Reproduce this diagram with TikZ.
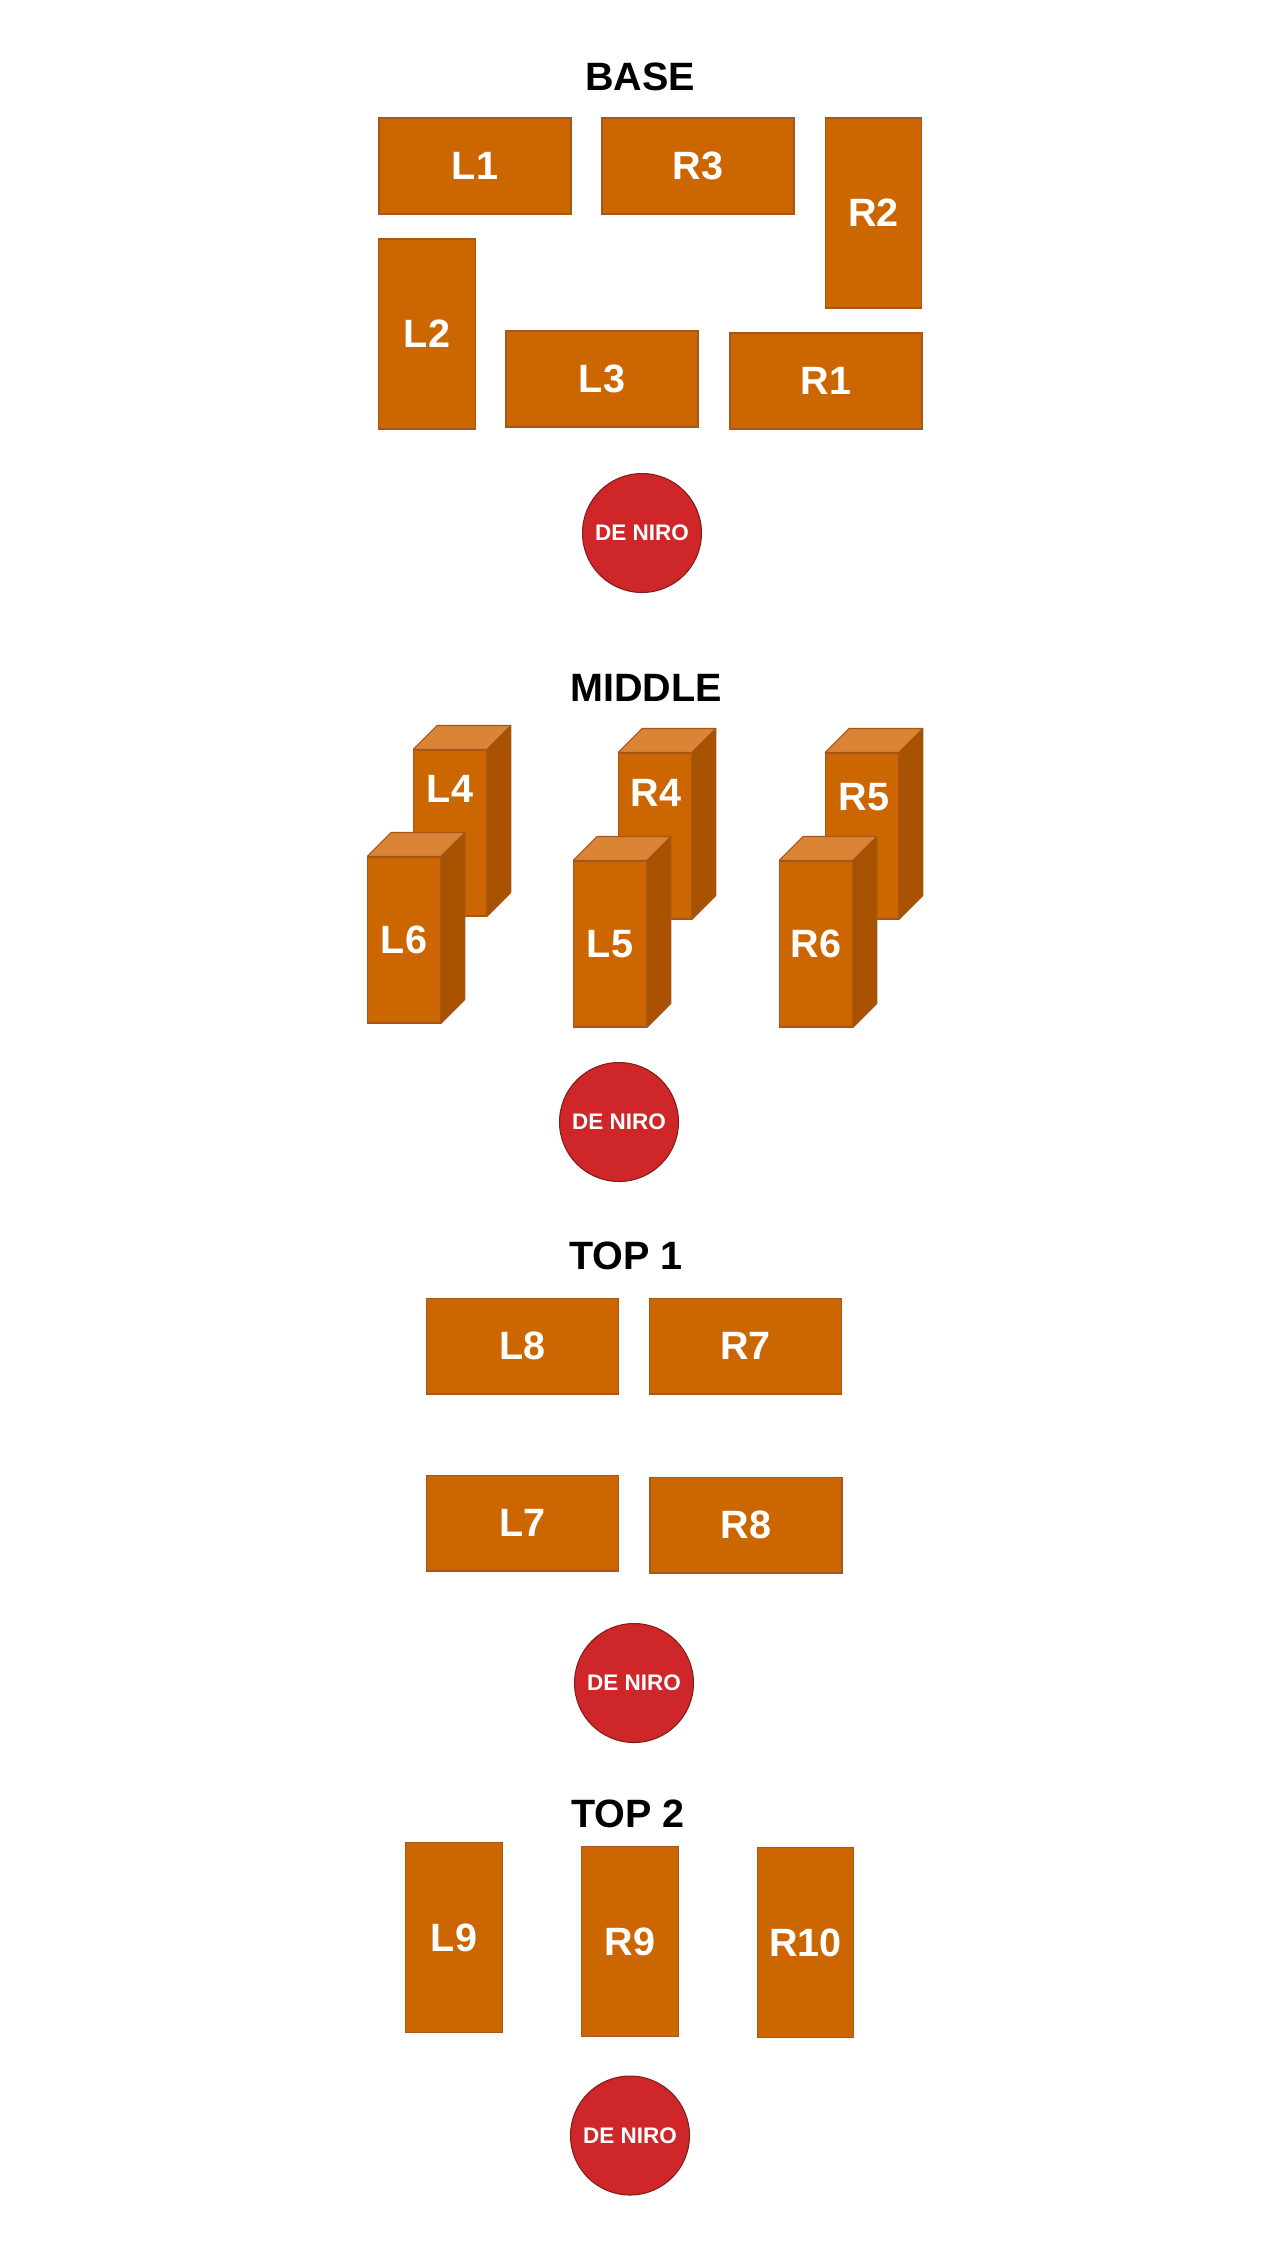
\documentclass[tikz,border=0pt]{standalone}
\usepackage{fontspec}
\setmainfont{Liberation Sans}
\definecolor{brick}{RGB}{204,102,0}
\definecolor{brickline}{RGB}{166,86,24}
\definecolor{bricktop}{RGB}{218,132,54}
\definecolor{brickside}{RGB}{168,82,0}
\definecolor{nirored}{RGB}{206,38,41}
\definecolor{niroline}{RGB}{128,30,24}

% top and right faces of a standing block
\newcommand{\prismfaces}[1]{%
  \filldraw[fill=bricktop, draw=brickline, line width=0.6pt, line join=round]
    (#1.north west) -- ++(24,-24) -- ([shift={(24,-24)}]#1.north east) -- (#1.north east) -- cycle;
  \filldraw[fill=brickside, draw=brickline, line width=0.6pt, line join=round]
    (#1.north east) -- ([shift={(24,-24)}]#1.north east) -- ([shift={(24,-24)}]#1.south east) -- (#1.south east) -- cycle;
}

\begin{document}
\begin{tikzpicture}[x=0.02cm, y=-0.02cm,
    flat/.style={draw=brickline, fill=brick, line width=0.6pt, inner sep=0pt,
      text=white, font=\fontsize{22.5pt}{24pt}\selectfont\bfseries,
      minimum width=3.84cm, minimum height=1.92cm},
    tall/.style={flat, minimum width=1.93cm, minimum height=3.8cm},
    front/.style={flat, minimum width=1.45cm, minimum height=3.32cm},
    tag/.style={text=white, font=\fontsize{22.5pt}{24pt}\selectfont\bfseries},
    deniro/.style={circle, draw=niroline, fill=nirored, line width=0.6pt, inner sep=0pt,
      minimum size=2.38cm, text=white, font=\fontsize{12.8pt}{14pt}\selectfont\bfseries},
    level/.style={font=\fontsize{22.5pt}{24pt}\selectfont\bfseries}]
  \fill[white] (0,0) rectangle (1265,2249);
  \useasboundingbox (0,0) rectangle (1265,2249);

  % base
  \node[level] (base) at (640,77) {BASE};
  \node[flat] (L1) at (475,166) {L1};
  \node[flat] (R3) at (698,166) {R3};
  \node[tall] (R2) at (873.5,213) {R2};
  \node[tall] (L2) at (427,334) {L2};
  \node[flat] (L3) at (602,379) {L3};
  \node[flat] (R1) at (826,381) {R1};
  \node[deniro] (niroA) at (642,533) {DE NIRO};

  % middle
  \node[level] (middle) at (646,688) {MIDDLE};
  \node[front] (L4) at (450,833) {};
  \prismfaces{L4}
  \node[tag] at (450,789) {L4};
  \node[front] (R4) at (655,836) {};
  \prismfaces{R4}
  \node[tag] at (656,793) {R4};
  \node[front] (R5) at (862,836) {};
  \prismfaces{R5}
  \node[tag] at (864,797) {R5};
  \node[front] (L6) at (404,940) {L6};
  \prismfaces{L6}
  \node[front] (L5) at (610,944) {L5};
  \prismfaces{L5}
  \node[front] (R6) at (816,944) {R6};
  \prismfaces{R6}
  \node[deniro] (niroB) at (619,1122) {DE NIRO};

  % top 1
  \node[level] (topone) at (626,1256) {TOP 1};
  \node[flat] (L8) at (522.5,1346) {L8};
  \node[flat] (R7) at (745.5,1346) {R7};
  \node[flat] (L7) at (522.5,1523) {L7};
  \node[flat] (R8) at (746,1525) {R8};
  \node[deniro] (niroC) at (634,1683) {DE NIRO};

  % top 2
  \node[level] (toptwo) at (628,1814) {TOP 2};
  \node[tall] (L9) at (454,1937.5) {L9};
  \node[tall] (R9) at (630,1941.5) {R9};
  \node[tall] (R10) at (805.5,1942.5) {R10};
  \node[deniro] (niroD) at (630,2135.5) {DE NIRO};
\end{tikzpicture}
\end{document}
